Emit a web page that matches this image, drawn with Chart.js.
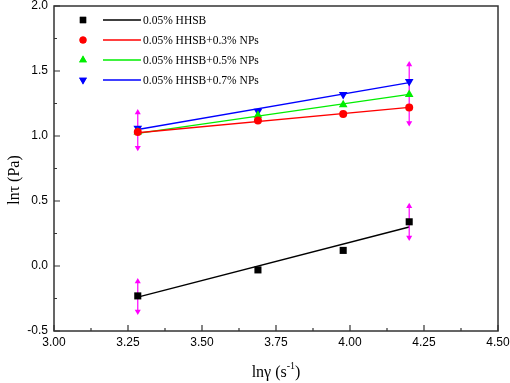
<!DOCTYPE html>
<html><head><meta charset="utf-8">
<script src="https://cdn.jsdelivr.net/npm/chart.js@4/dist/chart.umd.min.js"></script>
<style>html,body{margin:0;padding:0;background:#fff}#wrap{width:510px;height:383px}</style>
</head><body><div id="wrap"><canvas id="c" width="510" height="383"></canvas></div>
<script>
const xVals = [3.283, 3.689, 3.977, 4.200];
const seriesNames = ['0.05% HHSB','0.05% HHSB+0.3% NPs','0.05% HHSB+0.5% NPs','0.05% HHSB+0.7% NPs'];
const hhsb = [-0.23, -0.03, 0.12, 0.34];
const np03 = [1.03, 1.12, 1.17, 1.22];
const np05 = [1.03, 1.16, 1.24, 1.32];
const np07 = [1.06, 1.19, 1.32, 1.42];
const fitX = [3.283, 4.200];
const fitHhsb = [-0.24, 0.30];
const fit03 = [1.025, 1.22];
const fit05 = [1.02, 1.32];
const fit07 = [1.05, 1.41];
const errX = [3.283, 4.200, 3.283, 4.200];
const errHigh = [-0.12, 0.46, 1.18, 1.55];
const errLow = [-0.35, 0.22, 0.91, 1.10];
const xTicks = [3.00, 3.25, 3.50, 3.75, 4.00, 4.25, 4.50];
const yTicks = [-0.5, 0.0, 0.5, 1.0, 1.5, 2.0];

const colors = ['#000000','#ff0000','#00ee00','#0000ff'];
const styles = ['rect','circle','triangle','triangle'];
const rots = [0,0,0,180];
const radii = [5,4,5,5];
const allSeries = [hhsb,np03,np05,np07];
const allFits = [fitHhsb,fit03,fit05,fit07];

const datasets = [];
for (let i=0;i<4;i++){
  datasets.push({type:'line', data: fitX.map((x,j)=>({x, y: allFits[i][j]})), borderColor: colors[i], borderWidth: 1.3, pointRadius:0, fill:false, order: 3});
}
for (let i=0;i<4;i++){
  datasets.push({type:'line', data: [{x:errX[i], y:errHigh[i]},{x:errX[i], y:errLow[i]}], borderColor:'#ff00ff', borderWidth:1.2, pointStyle:'triangle', pointRadius:3.5, pointRotation:[0,180], pointBackgroundColor:'#ff00ff', pointBorderColor:'#ff00ff', pointBorderWidth:0, fill:false, order: 2});
}
for (let i=0;i<4;i++){
  datasets.push({type:'scatter', data: xVals.map((x,j)=>({x, y: allSeries[i][j]})), showLine:false, pointStyle: styles[i], pointRotation: rots[i], pointRadius: radii[i], backgroundColor: colors[i], borderColor: colors[i], pointBorderWidth: 0, order: 1});
}

const decor = {
  id:'decor',
  afterDraw(chart){
    const ctx = chart.ctx, a = chart.chartArea, xs = chart.scales.x, ys = chart.scales.y;
    ctx.save();
    ctx.strokeStyle = '#333'; ctx.lineWidth = 1.5;
    ctx.strokeRect(a.left, a.top, a.right-a.left, a.bottom-a.top);
    ctx.lineWidth = 1.2;
    ctx.beginPath();
    for (let i=0;i<xTicks.length;i++){
      const px = xs.getPixelForValue(xTicks[i]);
      ctx.moveTo(px, a.bottom); ctx.lineTo(px, a.bottom-6);
      if (i<xTicks.length-1){ const pm = xs.getPixelForValue((xTicks[i]+xTicks[i+1])/2); ctx.moveTo(pm,a.bottom); ctx.lineTo(pm,a.bottom-3); }
    }
    for (let i=0;i<yTicks.length;i++){
      const py = ys.getPixelForValue(yTicks[i]);
      ctx.moveTo(a.left, py); ctx.lineTo(a.left+6, py);
      if (i<yTicks.length-1){ const pm = ys.getPixelForValue((yTicks[i]+yTicks[i+1])/2); ctx.moveTo(a.left,pm); ctx.lineTo(a.left+3,pm); }
    }
    ctx.stroke();
    // tick labels
    ctx.fillStyle = '#000';
    ctx.font = '12px "Liberation Sans", Arial, sans-serif';
    ctx.textAlign = 'center'; ctx.textBaseline = 'top';
    for (const v of xTicks) ctx.fillText(v.toFixed(2), xs.getPixelForValue(v), a.bottom + 6);
    ctx.textAlign = 'right'; ctx.textBaseline = 'middle';
    for (const v of yTicks) ctx.fillText(v.toFixed(1), a.left - 6, ys.getPixelForValue(v));
    // titles
    ctx.textBaseline = 'alphabetic';
    const t1 = 'lnγ (s', t2='-1', t3=')';
    const F = '16px "Liberation Serif", serif', FS = '10px "Liberation Serif", serif';
    ctx.font = F;
    const w1 = ctx.measureText(t1).width, w3 = ctx.measureText(t3).width;
    ctx.font = FS;
    const w2 = ctx.measureText(t2).width;
    let sx = 276 - (w1+w2+w3)/2, by = 377;
    ctx.font = F; ctx.textAlign='left';
    ctx.fillText(t1, sx, by);
    ctx.font = FS; ctx.fillText(t2, sx+w1, by-8);
    ctx.font = F; ctx.fillText(t3, sx+w1+w2, by);
    ctx.save();
    ctx.translate(19, 180); ctx.rotate(-Math.PI/2);
    ctx.textAlign='center'; ctx.fillText('lnτ (Pa)', 0, 0);
    ctx.restore();
    // legend
    const rowsY = [20, 40, 60, 80];
    ctx.font = '11.5px "Liberation Serif", serif'; ctx.textAlign='left'; ctx.textBaseline='middle';
    for (let i=0;i<4;i++){
      const y = rowsY[i];
      ctx.fillStyle = colors[i];
      Chart.helpers.drawPoint(ctx, {pointStyle: styles[i], rotation: rots[i], radius: radii[i]-0.5, borderWidth:0}, 83, y);
      ctx.fill();
      ctx.strokeStyle = colors[i]; ctx.lineWidth = 1.3;
      ctx.beginPath(); ctx.moveTo(103, y); ctx.lineTo(141, y); ctx.stroke();
      ctx.fillStyle = '#000'; ctx.fillText(seriesNames[i], 143, y+1);
    }
    ctx.restore();
  }
};

new Chart(document.getElementById('c'), {
  data: { datasets },
  options: {
    responsive:false, animation:false, devicePixelRatio:1,
    layout:{padding:{left:0, right:12, top:6, bottom:0}},
    plugins:{legend:{display:false}, tooltip:{enabled:false}},
    scales:{
      x:{type:'linear', min:3.0, max:4.5, grid:{display:false, drawTicks:false}, border:{display:false},
         afterBuildTicks(s){ s.ticks = xTicks.map(v=>({value:v})); },
         afterFit(s){ s.height = 52; },
         ticks:{display:false}},
      y:{type:'linear', min:-0.5, max:2.0, grid:{display:false, drawTicks:false}, border:{display:false},
         afterBuildTicks(s){ s.ticks = yTicks.map(v=>({value:v})); },
         afterFit(s){ s.width = 54; },
         ticks:{display:false}}
    }
  },
  plugins:[decor]
});
</script></body></html>
